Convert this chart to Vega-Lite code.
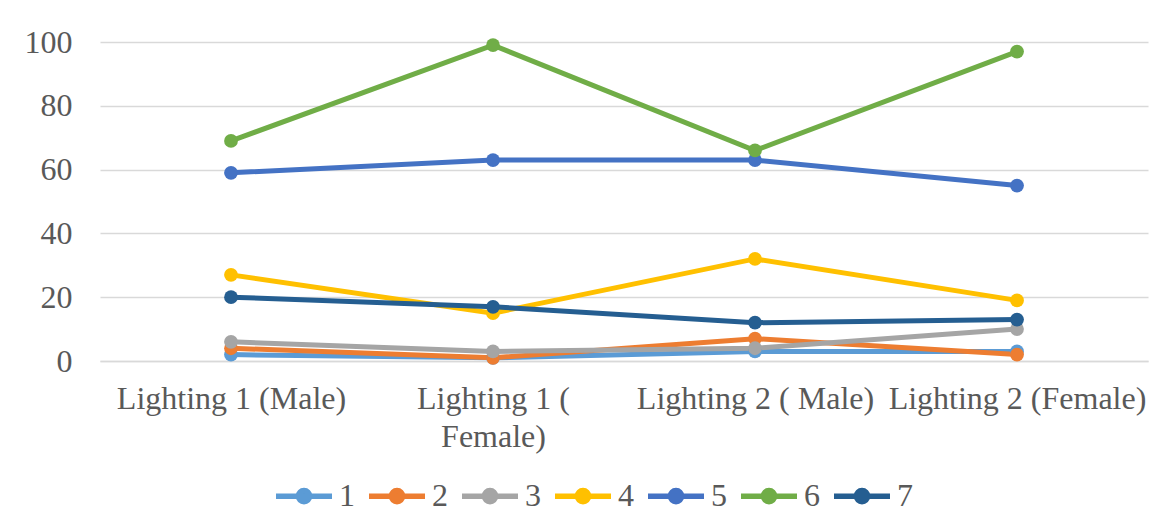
{
  "$schema": "https://vega.github.io/schema/vega-lite/v6.json",
  "width": 1048,
  "height": 319,
  "autosize": {"type": "none"},
  "padding": {"left": 100, "top": 42, "right": 25, "bottom": 171},
  "background": "white",
  "config": {
    "font": "Liberation Serif",
    "view": {"stroke": null},
    "axis": {
      "labelFont": "Liberation Serif",
      "labelColor": "#595959",
      "labelFontSize": 32,
      "title": null
    }
  },
  "data": {
    "values": [
      {"condition": "Lighting 1 (Male)", "series": "1", "value": 2},
      {"condition": "Lighting 1 ( Female)", "series": "1", "value": 1},
      {"condition": "Lighting 2 ( Male)", "series": "1", "value": 3},
      {"condition": "Lighting 2 (Female)", "series": "1", "value": 3},
      {"condition": "Lighting 1 (Male)", "series": "2", "value": 4},
      {"condition": "Lighting 1 ( Female)", "series": "2", "value": 1},
      {"condition": "Lighting 2 ( Male)", "series": "2", "value": 7},
      {"condition": "Lighting 2 (Female)", "series": "2", "value": 2},
      {"condition": "Lighting 1 (Male)", "series": "3", "value": 6},
      {"condition": "Lighting 1 ( Female)", "series": "3", "value": 3},
      {"condition": "Lighting 2 ( Male)", "series": "3", "value": 4},
      {"condition": "Lighting 2 (Female)", "series": "3", "value": 10},
      {"condition": "Lighting 1 (Male)", "series": "4", "value": 27},
      {"condition": "Lighting 1 ( Female)", "series": "4", "value": 15},
      {"condition": "Lighting 2 ( Male)", "series": "4", "value": 32},
      {"condition": "Lighting 2 (Female)", "series": "4", "value": 19},
      {"condition": "Lighting 1 (Male)", "series": "5", "value": 59},
      {"condition": "Lighting 1 ( Female)", "series": "5", "value": 63},
      {"condition": "Lighting 2 ( Male)", "series": "5", "value": 63},
      {"condition": "Lighting 2 (Female)", "series": "5", "value": 55},
      {"condition": "Lighting 1 (Male)", "series": "6", "value": 69},
      {"condition": "Lighting 1 ( Female)", "series": "6", "value": 99},
      {"condition": "Lighting 2 ( Male)", "series": "6", "value": 66},
      {"condition": "Lighting 2 (Female)", "series": "6", "value": 97},
      {"condition": "Lighting 1 (Male)", "series": "7", "value": 20},
      {"condition": "Lighting 1 ( Female)", "series": "7", "value": 17},
      {"condition": "Lighting 2 ( Male)", "series": "7", "value": 12},
      {"condition": "Lighting 2 (Female)", "series": "7", "value": 13}
    ]
  },
  "mark": {
    "type": "line",
    "strokeWidth": 5,
    "point": {"filled": true, "size": 190, "opacity": 1}
  },
  "encoding": {
    "x": {
      "field": "condition",
      "type": "ordinal",
      "sort": null,
      "scale": {"type": "point", "padding": 0.5},
      "axis": {
        "labelAngle": 0,
        "domainColor": "#d9d9d9",
        "domainWidth": 1.5,
        "ticks": false,
        "labelPadding": 22,
        "labelLimit": 300,
        "labelExpr": "datum.label == 'Lighting 1 ( Female)' ? ['Lighting 1 (', 'Female)'] : datum.label",
        "labelLineHeight": 38
      }
    },
    "y": {
      "field": "value",
      "type": "quantitative",
      "scale": {"domain": [0, 100], "nice": false},
      "axis": {
        "values": [0, 20, 40, 60, 80, 100],
        "domain": false,
        "ticks": false,
        "gridColor": "#d9d9d9",
        "gridWidth": 1.5,
        "labelPadding": 28
      }
    },
    "color": {
      "field": "series",
      "type": "nominal",
      "scale": {
        "domain": ["1", "2", "3", "4", "5", "6", "7"],
        "range": ["#5B9BD5", "#ED7D31", "#A5A5A5", "#FFC000", "#4472C4", "#70AD47", "#255E91"]
      },
      "legend": {
        "orient": "none",
        "legendX": 173,
        "legendY": 423,
        "direction": "horizontal",
        "title": null,
        "labelFontSize": 32,
        "labelColor": "#595959",
        "labelFont": "Liberation Serif",
        "symbolType": "M-1,0H1M-0.2,0A0.2,0.2,0,1,1,0.2,0A0.2,0.2,0,1,1,-0.2,0Z",
        "symbolSize": 3136,
        "symbolStrokeWidth": 5.5,
        "labelOffset": 4,
        "columnPadding": 3,
        "symbolOpacity": 1,
        "encode": {
          "symbols": {"update": {"fill": {"scale": "color", "field": "value"}, "stroke": {"scale": "color", "field": "value"}}}
        }
      }
    }
  }
}
